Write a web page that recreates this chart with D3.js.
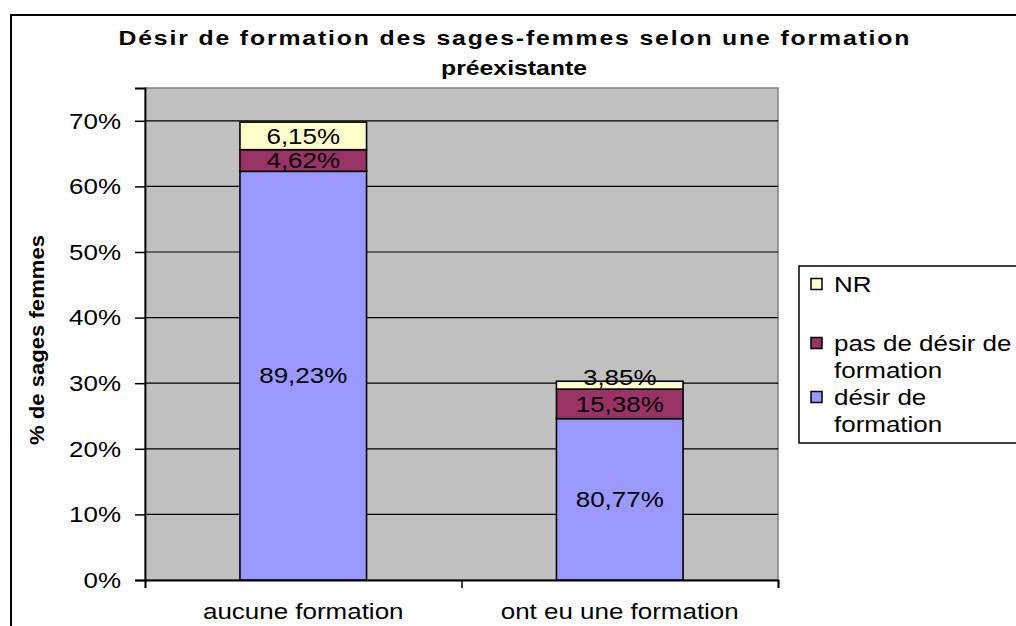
<!DOCTYPE html>
<html><head><meta charset="utf-8">
<script src="https://cdn.jsdelivr.net/npm/d3@7"></script>
<style>
body{margin:0;background:#fff}
text{font-family:"Liberation Sans",Arial,sans-serif;fill:#000}
</style>
</head><body>
<svg id="c" width="1016" height="626"></svg>
<script>
// ---- data ----
const categories = ["aucune formation", "ont eu une formation"];
const desir = [62.3, 24.6];          // bar heights, % of all sages-femmes
const pasDesir = [3.3, 4.5];
const nr = [4.2, 1.2];
const desirLabels = ["89,23%", "80,77%"];
const pasDesirLabels = ["4,62%", "15,38%"];
const nrLabels = ["6,15%", "3,85%"];
const yTicks = [0, 10, 20, 30, 40, 50, 60, 70];
const titleLines = ["Désir de formation des sages-femmes selon une formation", "préexistante"];
const yTitle = "% de sages femmes";
const legendItems = [
  {key: "nr", lines: ["NR"]},
  {key: "pas", lines: ["pas de désir de", "formation"]},
  {key: "desir", lines: ["désir de", "formation"]}
];

// ---- layout ----
const SX = 1.18;            // horizontal text stretch of the original rendering
const FS = 22;
const colors = {desir: "#9999FF", pas: "#993366", nr: "#FFFFCC"};
const plot = {l: 145, r: 778, t: 88, b: 580};

const svg = d3.select("#c");

// outer chart border
svg.append("rect").attr("x", 11).attr("y", 15).attr("width", 1100).attr("height", 700)
  .attr("fill", "#fff").attr("stroke", "#000").attr("stroke-width", 2);

const x = d3.scaleBand().domain(categories).range([plot.l, plot.r]).paddingInner(0.6).paddingOuter(0.3);
const y = d3.scaleLinear().domain([0, 75]).range([plot.b, plot.t]);

// plot area
svg.append("rect").attr("x", plot.l).attr("y", plot.t).attr("width", plot.r - plot.l).attr("height", plot.b - plot.t)
  .attr("fill", "#C0C0C0").attr("stroke", "#808080").attr("stroke-width", 1.5);

// gridlines
svg.append("g").selectAll("line").data(yTicks.filter(d => d > 0)).join("line")
  .attr("x1", plot.l).attr("x2", plot.r).attr("y1", d => y(d)).attr("y2", d => y(d))
  .attr("stroke", "#000").attr("stroke-width", 1.2);

function stext(g, txt, tx, ty, opts = {}) {
  const t = g.append("text")
    .attr("transform", `translate(${tx},${ty}) scale(${opts.sx || SX},1)`)
    .attr("text-anchor", opts.anchor || "middle")
    .attr("dominant-baseline", opts.baseline || "auto")
    .style("font-size", (opts.fs || FS) + "px")
    .style("font-weight", opts.bold ? "bold" : "normal")
    .text(txt);
  if (opts.len) t.attr("textLength", opts.len).attr("lengthAdjust", "spacing");
  return t;
}

// y axis
const yAxis = d3.axisLeft(y).tickValues(yTicks).tickSize(10).tickFormat(d => d + "%");
const ya = svg.append("g").attr("transform", `translate(${plot.l},0)`).call(yAxis);
ya.select(".domain").attr("stroke", "#000").attr("stroke-width", 1.8);
ya.selectAll(".tick line").attr("stroke", "#000").attr("stroke-width", 1.5);
ya.selectAll(".tick text").remove();
yTicks.forEach(d => stext(svg, d + "%", 121, y(d), {anchor: "end", baseline: "central"}));

// x axis
const xa = svg.append("g").attr("transform", `translate(0,${plot.b})`)
  .call(d3.axisBottom(d3.scaleLinear().domain([0, 2]).range([plot.l, plot.r])).tickValues([0, 1, 2]).tickSize(8).tickFormat(""));
xa.select(".domain").attr("stroke", "#000").attr("stroke-width", 1.8);
xa.selectAll(".tick line").attr("stroke", "#000").attr("stroke-width", 1.5);
categories.forEach(c => stext(svg, c, x(c) + x.bandwidth() / 2, 611, {baseline: "central"}));

// bars
const rows = categories.map((c, i) => ({cat: c, desir: desir[i], pas: pasDesir[i], nr: nr[i], i}));
const labels = {desir: desirLabels, pas: pasDesirLabels, nr: nrLabels};
const stack = d3.stack().keys(["desir", "pas", "nr"])(rows);
stack.forEach(s => {
  const g = svg.append("g");
  g.selectAll("rect").data(s).join("rect")
    .attr("x", d => x(d.data.cat)).attr("width", x.bandwidth())
    .attr("y", d => y(d[1])).attr("height", d => y(d[0]) - y(d[1]))
    .attr("fill", colors[s.key]).attr("stroke", "#000").attr("stroke-width", 1.6);
  s.forEach(d => {
    const segH = y(d[0]) - y(d[1]);
    const shift = Math.max(0, FS * 0.72 - segH);   // thin segment: label pushed up
    stext(g, labels[s.key][d.data.i], x(d.data.cat) + x.bandwidth() / 2, (y(d[0]) + y(d[1])) / 2 - shift, {baseline: "central"});
  });
});

// title
stext(svg, titleLines[0], 514, 45, {bold: true, fs: 21, len: 791 / SX});
stext(svg, titleLines[1], 514, 75, {bold: true, fs: 21});

// y title
svg.append("text").attr("transform", `translate(44,340) rotate(-90)`)
  .attr("text-anchor", "middle").style("font-size", "20px").style("font-weight", "bold")
  .attr("textLength", 210).attr("lengthAdjust", "spacingAndGlyphs").text(yTitle);

// legend
const lg = svg.append("g");
lg.append("rect").attr("x", 799).attr("y", 266).attr("width", 400).attr("height", 177)
  .attr("fill", "#fff").attr("stroke", "#000").attr("stroke-width", 1.5);
const itemY = [284, 343, 397];
legendItems.forEach((it, k) => {
  lg.append("rect").attr("x", 811).attr("y", itemY[k] - 5.5).attr("width", 11).attr("height", 11)
    .attr("fill", colors[it.key]).attr("stroke", "#000").attr("stroke-width", 1.5);
  it.lines.forEach((ln, j) => stext(lg, ln, 834, itemY[k] + j * 27, {anchor: "start", baseline: "central"}));
});
</script>
</body></html>
